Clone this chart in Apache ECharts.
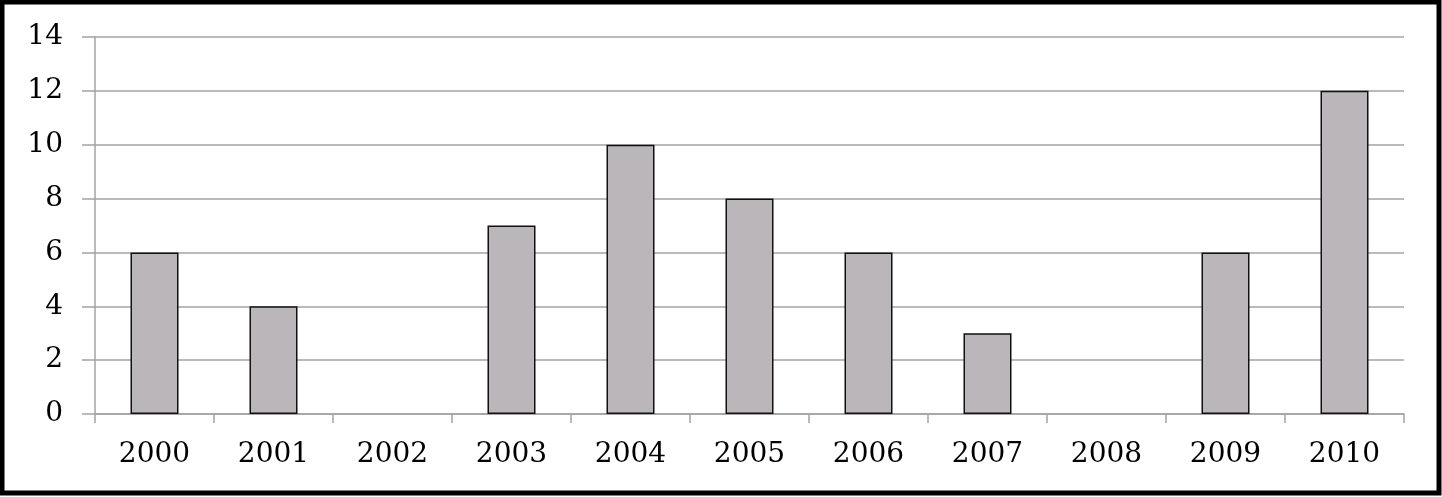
<!DOCTYPE html>
<html>
<head>
<meta charset="utf-8">
<script src="https://cdn.jsdelivr.net/npm/echarts@6/dist/echarts.min.js"></script>
<style>
  html, body { margin: 0; padding: 0; background: #fff; }
  #chart { width: 1442px; height: 497px; }
</style>
</head>
<body>
<div id="chart"></div>
<script>
// Data
var years = ['2000', '2001', '2002', '2003', '2004', '2005', '2006', '2007', '2008', '2009', '2010'];
var counts = [6, 4, 0, 7, 10, 8, 6, 3, 0, 6, 12];
var yTicks = [0, 2, 4, 6, 8, 10, 12, 14];

var gridGray = '#a3a3a3';
var font = '"DejaVu Serif", "Liberation Serif", serif';

// zero bars have no visible outline in the original
var barData = counts.map(function (v) {
  return v === 0 ? { value: v, itemStyle: { borderWidth: 0 } } : v;
});

var myChart = echarts.init(document.getElementById('chart'), null, { renderer: 'canvas' });

myChart.setOption({
  animation: false,
  backgroundColor: '#fff',
  grid: { left: 95, right: 38, top: 37, bottom: 83 },
  graphic: [{
    type: 'rect',
    shape: { x: 2, y: 2, width: 1437, height: 491 },
    style: { fill: 'none', stroke: '#000', lineWidth: 5 },
  }],
  xAxis: {
    type: 'category',
    data: years,
    axisLine: { lineStyle: { color: gridGray, width: 1.5 } },
    axisTick: { show: true, length: 9, lineStyle: { color: gridGray, width: 1.5 } },
    axisLabel: { color: '#000', fontFamily: font, fontSize: 28, margin: 27 },
  },
  yAxis: {
    type: 'value',
    min: yTicks[0],
    max: yTicks[yTicks.length - 1],
    interval: 2,
    axisLine: { show: true, lineStyle: { color: gridGray, width: 1.5 } },
    axisTick: { show: true, length: 13, lineStyle: { color: gridGray, width: 1.5 } },
    splitLine: { lineStyle: { color: gridGray, width: 1.5 } },
    axisLabel: { color: '#000', fontFamily: font, fontSize: 28, margin: 32 },
  },
  series: [{
    type: 'bar',
    data: barData,
    barWidth: 48,
    itemStyle: { color: '#bab6ba', borderColor: '#111', borderWidth: 1.5 },
  }],
});
</script>
</body>
</html>
